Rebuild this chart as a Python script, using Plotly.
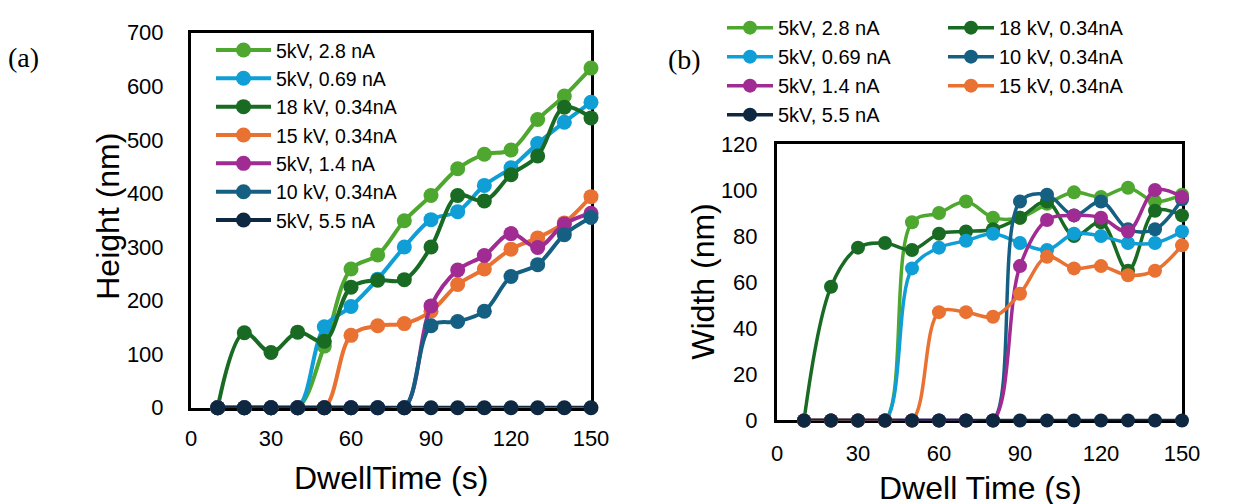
import plotly.graph_objects as go

# ---------------- data ----------------
dwell_time = [10, 20, 30, 40, 50, 60, 70, 80, 90, 100, 110, 120, 130, 140, 150]

x_ticks_left = [0, 30, 60, 90, 120, 150]
y_ticks_height = [0, 100, 200, 300, 400, 500, 600, 700]
y_ticks_width = [0, 20, 40, 60, 80, 100, 120]

name_5kV_2p8 = "5kV, 2.8 nA"
name_5kV_0p69 = "5kV, 0.69 nA"
name_18kV = "18 kV, 0.34nA"
name_15kV = "15 kV, 0.34nA"
name_5kV_1p4 = "5kV, 1.4 nA"
name_10kV = "10 kV, 0.34nA"
name_5kV_5p5 = "5kV, 5.5 nA"

# (a) Height (nm)
height_5kV_2p8 = [0, 0, 0, 0, 115, 259, 285, 349, 396, 446, 473, 481, 538, 582, 634]
height_5kV_0p69 = [0, 0, 0, 0, 151, 189, 240, 300, 351, 366, 415, 448, 493, 533, 570]
height_18kV = [0, 140, 103, 141, 124, 225, 238, 239, 300, 396, 386, 435, 470, 561, 541]
height_15kV = [0, 0, 0, 0, 0, 135, 153, 157, 180, 230, 259, 296, 317, 345, 394]
height_5kV_1p4 = [0, 0, 0, 0, 0, 0, 0, 0, 190, 257, 284, 325, 299, 343, 363]
height_10kV = [0, 0, 0, 0, 0, 0, 0, 0, 153, 161, 180, 245, 267, 323, 355]
height_5kV_5p5 = [0, 0, 0, 0, 0, 0, 0, 0, 0, 0, 0, 0, 0, 0, 0]

# (b) Width (nm)
width_5kV_2p8 = [0, 0, 0, 0, 86, 90, 95, 88, 88, 94, 99, 97, 101, 95, 98]
width_5kV_0p69 = [0, 0, 0, 0, 66, 75, 78, 81, 77, 74, 81, 80, 77, 77, 82]
width_18kV = [0, 58, 75, 77, 74, 81, 82, 83, 88, 95, 80, 86, 65, 91, 89]
width_15kV = [0, 0, 0, 0, 0, 47, 47, 45, 55, 71, 66, 67, 63, 65, 76]
width_5kV_1p4 = [0, 0, 0, 0, 0, 0, 0, 0, 67, 87, 89, 88, 82, 100, 97]
width_10kV = [0, 0, 0, 0, 0, 0, 0, 0, 95, 98, 89, 95, 83, 83, 96]
width_5kV_5p5 = [0, 0, 0, 0, 0, 0, 0, 0, 0, 0, 0, 0, 0, 0, 0]

colors = {
    name_5kV_2p8: "#4EA72E",
    name_5kV_0p69: "#0F9ED5",
    name_18kV: "#196B24",
    name_15kV: "#E97132",
    name_5kV_1p4: "#A02B93",
    name_10kV: "#156082",
    name_5kV_5p5: "#0E2841",
}

left_series = [
    (name_5kV_2p8, height_5kV_2p8),
    (name_5kV_0p69, height_5kV_0p69),
    (name_18kV, height_18kV),
    (name_15kV, height_15kV),
    (name_5kV_1p4, height_5kV_1p4),
    (name_10kV, height_10kV),
    (name_5kV_5p5, height_5kV_5p5),
]

right_series = [
    (name_5kV_2p8, width_5kV_2p8, "legend2"),
    (name_18kV, width_18kV, "legend3"),
    (name_5kV_0p69, width_5kV_0p69, "legend2"),
    (name_10kV, width_10kV, "legend3"),
    (name_5kV_1p4, width_5kV_1p4, "legend2"),
    (name_15kV, width_15kV, "legend3"),
    (name_5kV_5p5, width_5kV_5p5, "legend2"),
]

FONT = "Liberation Sans, Arial, sans-serif"
W, H = 1242, 504
OFF = 8  # page body margin offset of the figure in the browser

fig = go.Figure()

for name, vals in left_series:
    fig.add_trace(go.Scatter(
        x=dwell_time, y=vals, name=name, mode="lines+markers",
        line=dict(color=colors[name], width=4, shape="spline", smoothing=1),
        marker=dict(color=colors[name], size=15, line=dict(width=0)),
        xaxis="x", yaxis="y", legend="legend", cliponaxis=False,
    ))

for name, vals, lg in right_series:
    fig.add_trace(go.Scatter(
        x=dwell_time, y=vals, name=name, mode="lines+markers",
        line=dict(color=colors[name], width=3.5, shape="spline", smoothing=1),
        marker=dict(color=colors[name], size=14, line=dict(width=0)),
        xaxis="x2", yaxis="y2", legend=lg, cliponaxis=False,
    ))

def px_x(p):
    return (p - OFF) / W

def px_y(p):
    return 1 - (p - OFF) / H

axis_common = dict(
    showline=True, mirror=True, linecolor="black", linewidth=3,
    showgrid=False, zeroline=False, ticks="", layer="below traces",
    automargin=False,
    tickfont=dict(family=FONT, size=22, color="black"),
)

fig.update_layout(
    template="none",
    width=W, height=H, autosize=False,
    margin=dict(l=0, r=0, t=0, b=0, pad=0),
    paper_bgcolor="white", plot_bgcolor="white",
    font=dict(family=FONT, color="black"),
    xaxis=dict(domain=[px_x(191), px_x(591)], range=[0, 150], tickvals=x_ticks_left,
               anchor="y", ticklabelstandoff=9, **axis_common),
    yaxis=dict(domain=[px_y(406), px_y(25)], range=[0, 700], tickvals=y_ticks_height,
               anchor="x", ticklabelstandoff=20, **axis_common),
    xaxis2=dict(domain=[px_x(777), px_x(1182)], range=[0, 150], tickvals=x_ticks_left,
                anchor="y2", ticklabelstandoff=11, **axis_common),
    yaxis2=dict(domain=[px_y(419), px_y(138)], range=[0, 120], tickvals=y_ticks_width,
                anchor="x2", ticklabelstandoff=12, **axis_common),
    legend=dict(x=px_x(211), y=px_y(23), xanchor="left", yanchor="top",
                bgcolor="rgba(0,0,0,0)", borderwidth=0, itemwidth=55,
                font=dict(family=FONT, size=19.5, color="black")),
    legend2=dict(x=px_x(722), y=px_y(0), xanchor="left", yanchor="top",
                 bgcolor="rgba(0,0,0,0)", borderwidth=0, itemwidth=46,
                 font=dict(family=FONT, size=20, color="black")),
    legend3=dict(x=px_x(943), y=px_y(0), xanchor="left", yanchor="top",
                 bgcolor="rgba(0,0,0,0)", borderwidth=0, itemwidth=46,
                 font=dict(family=FONT, size=20, color="black")),
    showlegend=True,
)

annots = [
    dict(text="Height (nm)", x=px_x(108), y=px_y(212), textangle=-90,
         font=dict(family=FONT, size=32, color="black")),
    dict(text="DwellTime (s)", x=px_x(391), y=px_y(477),
         font=dict(family=FONT, size=32, color="black")),
    dict(text="Width (nm)", x=px_x(703), y=px_y(278), textangle=-90,
         font=dict(family=FONT, size=32, color="black")),
    dict(text="Dwell Time (s)", x=px_x(980), y=px_y(488),
         font=dict(family=FONT, size=32, color="black")),
    dict(text="(a)", x=px_x(23), y=px_y(50),
         font=dict(family="Liberation Serif, Times New Roman, serif", size=28, color="black")),
    dict(text="(b)", x=px_x(684), y=px_y(52),
         font=dict(family="Liberation Serif, Times New Roman, serif", size=28, color="black")),
]
for a in annots:
    fig.add_annotation(xref="paper", yref="paper", showarrow=False,
                       xanchor="center", yanchor="middle", **a)

fig.write_html("out.html")
